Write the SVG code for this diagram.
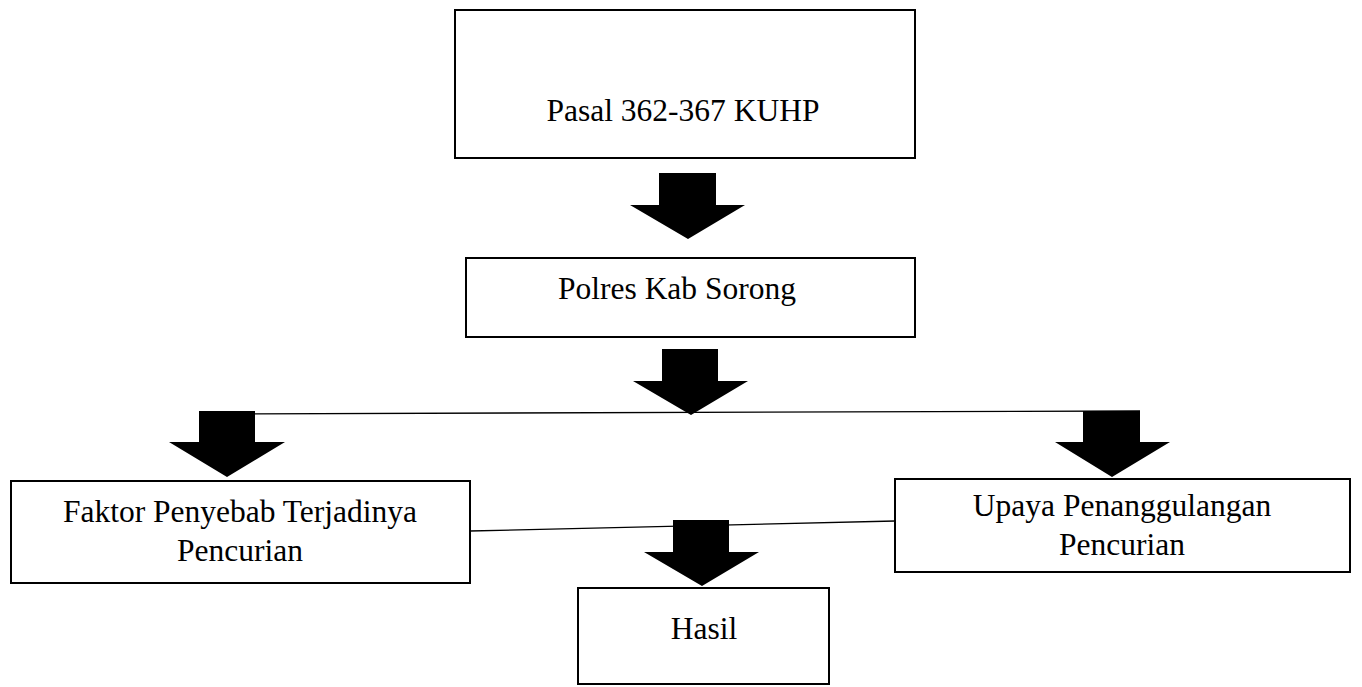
<svg xmlns="http://www.w3.org/2000/svg" width="1362" height="687" viewBox="0 0 1362 687">
<style>
.box{fill:#fff;stroke:#000;stroke-width:2}
.t{font-family:"Liberation Serif","Times New Roman",serif;font-size:31.5px;fill:#000;text-anchor:middle}
.arr{fill:#000;stroke:none}
.ln{stroke:#000;stroke-width:1.3;fill:none}
</style>
<rect width="1362" height="687" fill="#fff"/>
<g id="connectors">
<line class="ln" x1="199" y1="414" x2="1140" y2="411"/>
<line class="ln" x1="470" y1="531" x2="895" y2="521"/>
<polygon class="arr" points="659,173 716,173 716,205 745,205 688,239 630,205 659,205"/>
<polygon class="arr" points="662,349 718,349 718,381 748,381 691,415 633,381 662,381"/>
<polygon class="arr" points="199,411 255,411 255,442 285,442 227,477 169,442 199,442"/>
<polygon class="arr" points="1083,411 1140,411 1140,442 1170,442 1112,477 1055,442 1083,442"/>
<polygon class="arr" points="673,520 729,520 729,552 759,552 702,586 644,552 673,552"/>
</g>
<g id="node-pasal">
<rect class="box" x="455" y="10" width="460" height="148"/>
<text class="t" x="683" y="121">Pasal 362-367 KUHP</text>
</g>
<g id="node-polres">
<rect class="box" x="466" y="258" width="449" height="79"/>
<text class="t" x="677" y="299">Polres Kab Sorong</text>
</g>
<g id="node-faktor">
<rect class="box" x="11" y="481" width="459" height="102"/>
<text class="t" x="240" y="522">Faktor Penyebab Terjadinya</text>
<text class="t" x="240" y="561">Pencurian</text>
</g>
<g id="node-upaya">
<rect class="box" x="895" y="479" width="455" height="93"/>
<text class="t" x="1122" y="516">Upaya Penanggulangan</text>
<text class="t" x="1122" y="555">Pencurian</text>
</g>
<g id="node-hasil">
<rect class="box" x="578" y="588" width="251" height="96"/>
<text class="t" x="704" y="639">Hasil</text>
</g>
</svg>
